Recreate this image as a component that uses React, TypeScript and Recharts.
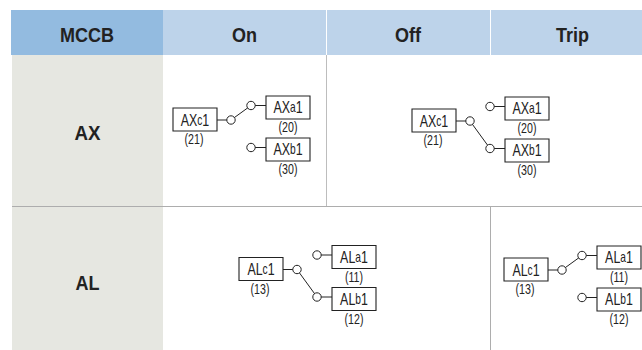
import { ScatterChart, Scatter, XAxis, YAxis, ReferenceArea, ReferenceLine } from 'recharts';

// Table content
const headers = ['MCCB', 'On', 'Off', 'Trip'];
const breakers = ['AX', 'AL'];
const axTerminals = ['AXc1', 'AXa1', 'AXb1'];
const axNumbers = ['(21)', '(20)', '(30)'];
const alTerminals = ['ALc1', 'ALa1', 'ALb1'];
const alNumbers = ['(13)', '(11)', '(12)'];

// Layout of the table, in page pixels (the axes run 0-642 and 0-350)
const W = 642;
const H = 350;
const headerX = [
  [11, 163],
  [163, 326],
  [327, 490],
  [491, 642],
];
const headerCenters = [87, 244.5, 408, 572.5];
const headerWidths = [54, 25, 26, 33];
const breakerY = [132.5, 282.5];
const breakerWidths = [26, 24];
const INK = '#222222';
const font = '"Liberation Sans", Arial, sans-serif';

// where each switch diagram sits and which contact it is closed on
const diagrams = [
  { terminals: axTerminals, numbers: axNumbers, ox: 173, oy: 108, closed: 'a' },
  { terminals: axTerminals, numbers: axNumbers, ox: 412, oy: 109, closed: 'b' },
  { terminals: alTerminals, numbers: alNumbers, ox: 239, oy: 257.5, closed: 'b' },
  { terminals: alTerminals, numbers: alNumbers, ox: 504, oy: 258, closed: 'a' },
];

const headerTexts = headers.map((t, i) => ({ x: headerCenters[i], y: 34.5, t, w: headerWidths[i] }));
const breakerTexts = breakers.map((t, i) => ({ x: 87.5, y: breakerY[i], t, w: breakerWidths[i] }));

const terminalTexts = diagrams.flatMap((d) => [
  { x: d.ox + 22, y: d.oy + 12, t: d.terminals[0] },
  { x: d.ox + 115, y: d.oy - 0.5, t: d.terminals[1] },
  { x: d.ox + 115, y: d.oy + 41.5, t: d.terminals[2] },
]);
const numberTexts = diagrams.flatMap((d) => [
  { x: d.ox + 21, y: d.oy + 31.5, t: d.numbers[0] },
  { x: d.ox + 115, y: d.oy + 19.5, t: d.numbers[1] },
  { x: d.ox + 115, y: d.oy + 61.5, t: d.numbers[2] },
]);
const contacts = diagrams.flatMap((d) => [
  { x: d.ox + 58, y: d.oy + 12 },
  { x: d.ox + 78, y: d.oy - 2.5 },
  { x: d.ox + 78, y: d.oy + 39.5 },
]);

function BoldText(props: any) {
  const { cx, cy, payload } = props;
  return (
    <text x={cx} y={cy} textAnchor="middle" dominantBaseline="central" fontFamily={font} fontWeight={700} fontSize={21}
      fill="#222" textLength={payload.w} lengthAdjust="spacingAndGlyphs">
      {payload.t}
    </text>
  );
}

function TerminalText(props: any) {
  const { cx, cy, payload } = props;
  const t: string = payload.t;
  return (
    <text transform={`translate(${cx},${cy}) scale(0.73,1)`} textAnchor="middle" dominantBaseline="central" fontFamily={font} fontSize={17} fill="#222">
      {t.slice(0, 2)}
      <tspan fontSize={14}>{t[2]}</tspan>
      {t[3]}
    </text>
  );
}

function NumberText(props: any) {
  const { cx, cy, payload } = props;
  return (
    <text transform={`translate(${cx},${cy}) scale(0.76,1)`} textAnchor="middle" dominantBaseline="central" fontFamily={font} fontSize={14} fill="#222">
      {payload.t}
    </text>
  );
}

function Contact(props: any) {
  return <circle cx={props.cx} cy={props.cy} r={4.2} fill="#fff" stroke={INK} strokeWidth={1} />;
}

export default function App() {
  return (
    <div style={{ position: 'absolute', left: 0, top: 0 }}>
      <ScatterChart width={W} height={H} margin={{ top: 0, right: 0, bottom: 0, left: 0 }}>
        <XAxis type="number" dataKey="x" domain={[0, W]} hide />
        <YAxis type="number" dataKey="y" domain={[0, H]} reversed hide />

        {/* cell fills */}
        {headerX.map(([x1, x2], i) => (
          <ReferenceArea key={i} x1={x1} x2={x2} y1={10} y2={55} fill={i === 0 ? '#93bbe0' : '#bdd3ea'} fillOpacity={1} stroke="none" />
        ))}
        <ReferenceArea x1={12} x2={163} y1={55} y2={350} fill="#e6e7e1" fillOpacity={1} stroke="none" />

        {/* grid rules */}
        <ReferenceLine segment={[{ x: 12, y: 206.5 }, { x: W, y: 206.5 }]} stroke="#adadad" strokeWidth={1} />
        <ReferenceLine segment={[{ x: 326.5, y: 55 }, { x: 326.5, y: 206 }]} stroke="#bdbdbd" strokeWidth={1} />
        <ReferenceLine segment={[{ x: 490.5, y: 207 }, { x: 490.5, y: 350 }]} stroke="#adadad" strokeWidth={1} />

        {/* switch diagrams */}
        {diagrams.map((d, i) => (
          <ReferenceArea key={`c${i}`} x1={d.ox} x2={d.ox + 44} y1={d.oy} y2={d.oy + 23} fill="#fff" fillOpacity={1} stroke={INK} strokeWidth={1.1} />
        ))}
        {diagrams.map((d, i) => (
          <ReferenceArea key={`a${i}`} x1={d.ox + 93} x2={d.ox + 137} y1={d.oy - 12} y2={d.oy + 11} fill="#fff" fillOpacity={1} stroke={INK} strokeWidth={1.1} />
        ))}
        {diagrams.map((d, i) => (
          <ReferenceArea key={`b${i}`} x1={d.ox + 93} x2={d.ox + 137} y1={d.oy + 30} y2={d.oy + 53} fill="#fff" fillOpacity={1} stroke={INK} strokeWidth={1.1} />
        ))}
        {diagrams.map((d, i) => (
          <ReferenceLine key={`lc${i}`} segment={[{ x: d.ox + 44, y: d.oy + 12 }, { x: d.ox + 58, y: d.oy + 12 }]} stroke={INK} strokeWidth={1} />
        ))}
        {diagrams.map((d, i) => (
          <ReferenceLine key={`la${i}`} segment={[{ x: d.ox + 78, y: d.oy - 2.5 }, { x: d.ox + 93, y: d.oy - 2.5 }]} stroke={INK} strokeWidth={1} />
        ))}
        {diagrams.map((d, i) => (
          <ReferenceLine key={`lb${i}`} segment={[{ x: d.ox + 78, y: d.oy + 39.5 }, { x: d.ox + 93, y: d.oy + 39.5 }]} stroke={INK} strokeWidth={1} />
        ))}
        {diagrams.map((d, i) => (
          <ReferenceLine key={`sw${i}`} segment={[{ x: d.ox + 58, y: d.oy + 12 }, { x: d.ox + 78, y: d.oy + (d.closed === 'a' ? -2.5 : 39.5) }]} stroke={INK} strokeWidth={1} />
        ))}

        <Scatter data={contacts} shape={Contact} isAnimationActive={false} />
        <Scatter data={headerTexts} shape={BoldText} isAnimationActive={false} />
        <Scatter data={breakerTexts} shape={BoldText} isAnimationActive={false} />
        <Scatter data={terminalTexts} shape={TerminalText} isAnimationActive={false} />
        <Scatter data={numberTexts} shape={NumberText} isAnimationActive={false} />
      </ScatterChart>
    </div>
  );
}
